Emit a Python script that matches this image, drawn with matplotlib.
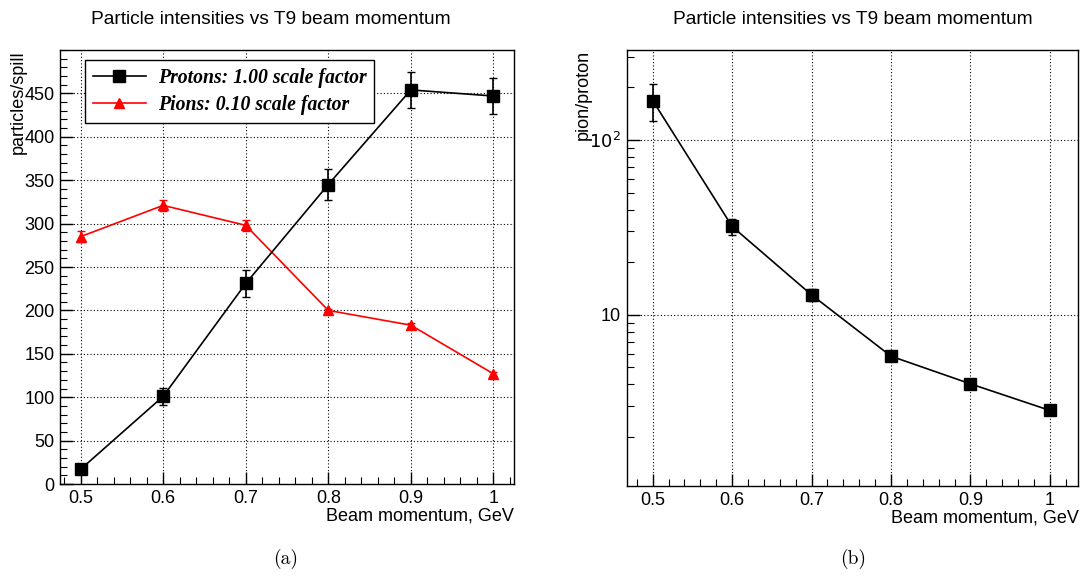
import matplotlib
matplotlib.use("Agg")
import matplotlib.pyplot as plt
from matplotlib.lines import Line2D
from matplotlib.ticker import MultipleLocator, LogLocator, FixedLocator, NullFormatter

# beam momentum points, GeV
momentum = [0.5, 0.6, 0.7, 0.8, 0.9, 1.0]

# protons per spill (scale factor 1.00)
protons = [17, 101, 231, 345, 454, 447]
protons_err = [3, 10, 15, 18, 21, 21]

# pions per spill (scale factor 0.10)
pions = [285, 321, 298, 200, 183, 127]
pions_err = [6, 6, 6, 2, 2, 2]

# pion/proton ratio
ratio = [168, 32, 13.0, 5.8, 4.03, 2.84]
ratio_err = [40, 3.5, 1.0, 0.2, 0.12, 0.08]

title = "Particle intensities vs T9 beam momentum"
sans = ["Liberation Sans", "DejaVu Sans"]

plt.rcParams["font.family"] = sans
plt.rcParams["xtick.direction"] = "in"
plt.rcParams["ytick.direction"] = "in"

fig = plt.figure(figsize=(10.83, 5.78), dpi=100)
ax1 = fig.add_axes([0.0554, 0.1626, 0.4192, 0.7509])
ax2 = fig.add_axes([0.5785, 0.1592, 0.4173, 0.7543])


def root_style(ax):
    ax.tick_params(which="major", length=9, width=1, labelsize=13, pad=4)
    ax.tick_params(which="minor", length=5, width=0.8)
    ax.tick_params(top=False, right=False)
    ax.grid(True, which="major", linestyle=(0, (1, 2)), color="black", linewidth=0.8)
    for sp in ax.spines.values():
        sp.set_linewidth(1.0)
    ax.xaxis.set_major_locator(MultipleLocator(0.1))
    ax.xaxis.set_minor_locator(MultipleLocator(0.02))
    ax.xaxis.set_major_formatter(plt.FuncFormatter(lambda v, p: f"{v:g}"))
    ax.set_xlabel("Beam momentum, GeV", fontsize=13, loc="right", labelpad=1)


# (a) intensities
root_style(ax1)
ax1.errorbar(momentum, protons, yerr=protons_err, color="black", marker="s",
             markersize=8, linewidth=1.2, capsize=3, elinewidth=1.2, zorder=4)
ax1.errorbar(momentum, pions, yerr=pions_err, color="red", marker="^",
             markersize=7, linewidth=1.2, capsize=3, elinewidth=1.2, zorder=3)
ax1.set_xlim(0.475, 1.025)
ax1.set_ylim(0, 500)
ax1.yaxis.set_major_locator(FixedLocator([0, 50, 100, 150, 200, 250, 300, 350, 400, 450]))
ax1.yaxis.set_minor_locator(MultipleLocator(10))
ax1.set_ylabel("particles/spill", fontsize=13, loc="top", labelpad=-2)
ax1.set_title(title, fontsize=13.8, pad=18.5, x=0.465)
handles = [
    Line2D([], [], color="black", marker="s", markersize=8, linewidth=1.2),
    Line2D([], [], color="red", marker="^", markersize=7, linewidth=1.2),
]
labels = ["Protons: 1.00 scale factor", "Pions: 0.10 scale factor"]
leg = ax1.legend(handles, labels, loc="upper left", bbox_to_anchor=(0.055, 0.977),
                 borderaxespad=0, frameon=True, fancybox=False, edgecolor="black",
                 framealpha=1, handlelength=2.7, handletextpad=0.6,
                 borderpad=0.4, labelspacing=0.35,
                 prop={"family": ["Liberation Serif", "DejaVu Serif"], "style": "italic",
                       "weight": "bold", "size": 14.2})
leg.get_frame().set_linewidth(1.0)

# (b) pion/proton ratio
root_style(ax2)
ax2.errorbar(momentum, ratio, yerr=ratio_err, color="black", marker="s",
             markersize=8, linewidth=1.2, capsize=3, elinewidth=1.2, zorder=4)
ax2.set_yscale("log")
ax2.set_xlim(0.467, 1.036)
ax2.set_ylim(1.05, 327)
ax2.yaxis.set_major_locator(FixedLocator([10, 100]))
ax2.yaxis.set_major_formatter(plt.FixedFormatter(["10", "$10^2$"]))
ax2.yaxis.set_minor_locator(LogLocator(base=10, subs=range(2, 10)))
ax2.yaxis.set_minor_formatter(NullFormatter())
ax2.set_ylabel("pion/proton", fontsize=13, loc="top", labelpad=-2)
ax2.set_title(title, fontsize=13.8, pad=18.5)

fig.text(0.264, 0.025, "(a)", fontsize=14, family=["cmr10"], ha="center")
fig.text(0.788, 0.025, "(b)", fontsize=14, family=["cmr10"], ha="center")

fig.savefig("out.png", dpi=100)
